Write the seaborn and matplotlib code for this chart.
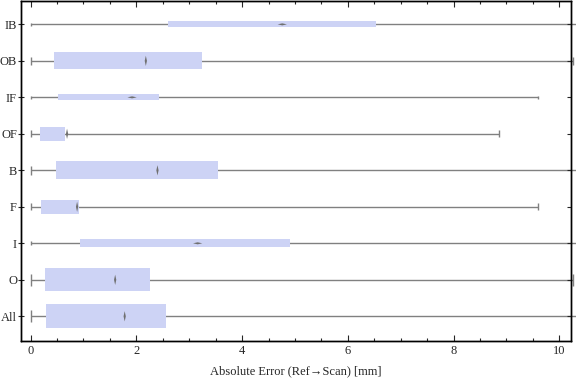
import numpy as np
import pandas as pd
import matplotlib.pyplot as plt
import seaborn as sns
from matplotlib.path import Path
from matplotlib.ticker import MultipleLocator

# box-whisker stats (mm)
groups  = ["IB", "OB", "IF", "OF", "B", "F", "I", "O", "All"]
mins    = [0.0, 0.0, 0.0, 0.0, 0.0, 0.0, 0.0, 0.0, 0.0]
q1      = [2.59, 0.45, 0.52, 0.17, 0.49, 0.19, 0.93, 0.28, 0.30]
medians = [4.76, 2.18, 1.92, 0.69, 2.40, 0.88, 3.16, 1.60, 1.78]
q3      = [6.54, 3.25, 2.42, 0.66, 3.55, 0.91, 4.91, 2.25, 2.56]
maxs    = [10.6, 10.26, 9.59, 8.85, 10.6, 9.59, 10.6, 10.26, 10.6]

# relative box thickness per group (drawing style)
box_h = [0.165, 0.466, 0.165, 0.40, 0.49, 0.39, 0.21, 0.63, 0.66]

df = pd.DataFrame({"group": groups, "min": mins, "q1": q1, "med": medians,
                   "q3": q3, "max": maxs, "h": box_h})
df["pos"] = np.arange(len(df))
df["flat"] = df["h"] < 0.3

sns.set_style("ticks")
plt.rcParams["font.family"] = ["Liberation Serif", "DejaVu Serif"]

BOX_C = "#cdd3f5"
WHISK_C = "#808080"

fig = plt.figure(figsize=(5.76, 3.81), dpi=100)
ax = fig.add_axes([0.0356, 0.105, 0.9557, 0.8935])

for _, r in df.iterrows():
    ax.hlines(r["pos"], r["min"], r["max"], color=WHISK_C, lw=1.0, zorder=1, clip_on=False)
    cap = r["h"] * 0.25
    ax.vlines([r["min"], r["max"]], r["pos"] - cap, r["pos"] + cap,
              color=WHISK_C, lw=1.0, zorder=1, clip_on=False)
    ax.barh(r["pos"], r["q3"] - r["q1"], left=r["q1"], height=r["h"],
            color=BOX_C, edgecolor="none", zorder=2)

vert_diamond = Path([(0, -1), (0.22, 0), (0, 1), (-0.22, 0), (0, -1)])
flat_diamond = Path([(-1, 0), (0, 0.22), (1, 0), (0, -0.22), (-1, 0)])

sns.scatterplot(data=df[~df["flat"]], x="med", y="pos", marker=vert_diamond,
                s=55, color="#707070", edgecolor="none", ax=ax, zorder=3, legend=False)
sns.scatterplot(data=df[df["flat"]], x="med", y="pos", marker=flat_diamond,
                s=45, color="#707070", edgecolor="none", ax=ax, zorder=3, legend=False)

ax.set_xlim(-0.19, 10.22)
ax.set_ylim(8.677, -0.652)
ax.set_yticks(df["pos"])
ax.set_yticklabels(groups, fontsize=9)
ax.xaxis.set_major_locator(MultipleLocator(2))
ax.xaxis.set_minor_locator(MultipleLocator(0.5))
ax.tick_params(axis="x", which="major", direction="in", length=4, width=0.8,
               top=True, labelsize=9, pad=3)
ax.tick_params(axis="x", which="minor", direction="in", length=2.5, width=0.8, top=True)
ax.tick_params(axis="y", direction="inout", length=4, width=0.8, pad=0.5)
ax.set_xlabel("Absolute Error (Ref\u2192Scan) [mm]", fontsize=9, labelpad=6)
ax.set_ylabel("")

ax2 = ax.twinx()
ax2.set_ylim(ax.get_ylim())
ax2.set_yticks(df["pos"])
ax2.set_yticklabels([])
ax2.tick_params(axis="y", direction="in", length=3, width=0.8)

for a in (ax, ax2):
    for s in a.spines.values():
        s.set_visible(True)
        s.set_linewidth(1.0)
        s.set_color("black")

fig.savefig("out.png", dpi=100)
